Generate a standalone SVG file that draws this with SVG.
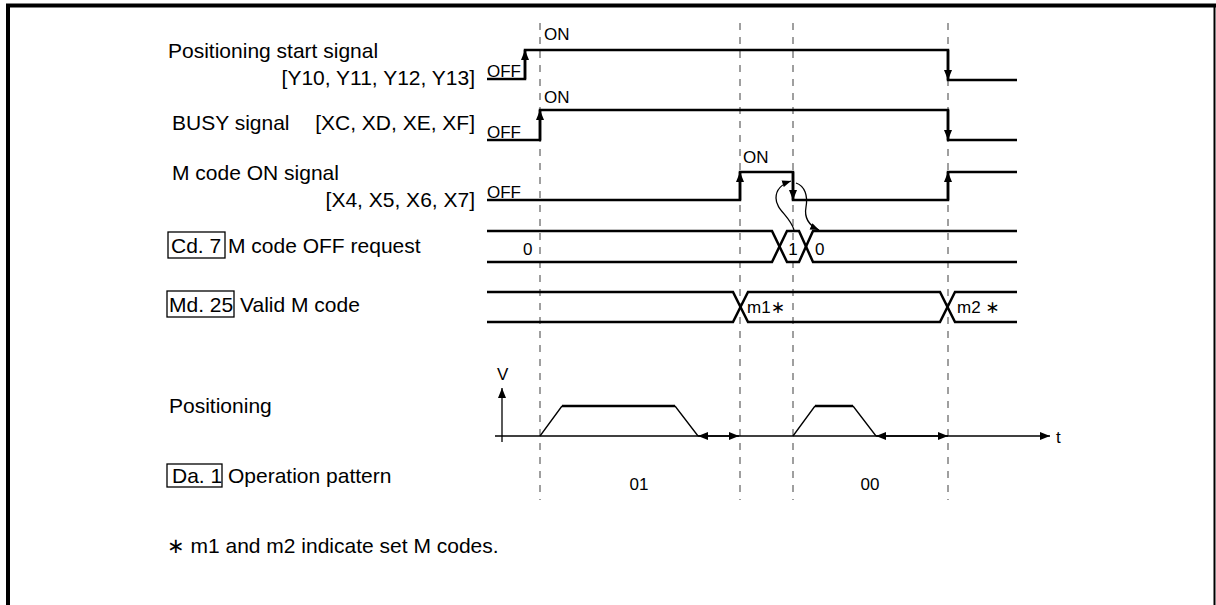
<svg xmlns="http://www.w3.org/2000/svg" width="1216" height="605" viewBox="0 0 1216 605">
<defs>
<marker id="ah" viewBox="0 0 10 8" refX="10" refY="4" markerWidth="10" markerHeight="8" markerUnits="userSpaceOnUse" orient="auto-start-reverse"><path d="M0,0 L10,4 L0,8 z" fill="#000"/></marker>
<marker id="ahs" viewBox="0 0 10 8" refX="10" refY="4" markerWidth="9" markerHeight="7" markerUnits="userSpaceOnUse" orient="auto"><path d="M0,0 L10,4 L0,8 z" fill="#000"/></marker>
</defs>
<style>
.lbl{font-family:"Liberation Sans",Arial,sans-serif;font-size:21px;fill:#000}
.sm{font-family:"Liberation Sans",Arial,sans-serif;font-size:17px;fill:#000}
.ast{font-family:"DejaVu Sans","Liberation Sans",sans-serif}
.sig{fill:none;stroke:#000;stroke-width:2.5}
.thin{fill:none;stroke:#000;stroke-width:1.3}
.dash{stroke:#808080;stroke-width:1.5;stroke-dasharray:7 7}
.box{fill:none;stroke:#000;stroke-width:1.3}
</style>
<rect width="1216" height="605" fill="#fff"/>
<g id="frame">
<path d="M8 605 V5.5 H1216" fill="none" stroke="#000" stroke-width="4"/>
<line x1="1214.5" y1="5" x2="1214.5" y2="605" stroke="#000" stroke-width="2"/>
</g>
<g id="connectors">
<line class="dash" x1="540" y1="23" x2="540" y2="500"/>
<line class="dash" x1="740" y1="23" x2="740" y2="500"/>
<line class="dash" x1="793" y1="23" x2="793" y2="500"/>
<line class="dash" x1="948" y1="23" x2="948" y2="500"/>
<path class="thin" d="M794 230 C790 216 776 210 776 198 C776 189 782 184 791 181" marker-end="url(#ahs)" stroke-width="1"/>
<path class="thin" d="M796 183 C805 186 808 196 806 207 C804 218 808 225 819 230" marker-end="url(#ahs)" stroke-width="1"/>
</g>
<g id="start-signal">
<text class="lbl" x="168" y="58">Positioning start signal</text>
<text class="lbl" x="475" y="85" text-anchor="end">[Y10, Y11, Y12, Y13]</text>
<text class="sm" x="487" y="77">OFF</text>
<text class="sm" x="544" y="40">ON</text>
<path class="sig" d="M487 79 H525 V50 H948 V80 H1017"/>
<line class="sig" x1="525" y1="79" x2="525" y2="50" marker-end="url(#ah)"/>
<line class="sig" x1="948" y1="50" x2="948" y2="80" marker-end="url(#ah)"/>
</g>
<g id="busy-signal">
<text class="lbl" x="172" y="130">BUSY signal</text>
<text class="lbl" x="475" y="130" text-anchor="end">[XC, XD, XE, XF]</text>
<text class="sm" x="487" y="138">OFF</text>
<text class="sm" x="544" y="103">ON</text>
<path class="sig" d="M487 140 H540 V110 H948 V140 H1017"/>
<line class="sig" x1="540" y1="140" x2="540" y2="110" marker-end="url(#ah)"/>
<line class="sig" x1="948" y1="110" x2="948" y2="140" marker-end="url(#ah)"/>
</g>
<g id="mcode-on-signal">
<text class="lbl" x="172" y="180">M code ON signal</text>
<text class="lbl" x="475" y="207" text-anchor="end">[X4, X5, X6, X7]</text>
<text class="sm" x="487" y="198">OFF</text>
<text class="sm" x="743" y="163">ON</text>
<path class="sig" d="M487 200 H740 V172 H793 V200 H948 V172 H1017"/>
<line class="sig" x1="740" y1="200" x2="740" y2="172" marker-end="url(#ah)"/>
<line class="sig" x1="793" y1="172" x2="793" y2="200" marker-end="url(#ah)"/>
<line class="sig" x1="948" y1="200" x2="948" y2="172" marker-end="url(#ah)"/>
</g>
<g id="cd7">
<rect class="box" x="168" y="232" width="57" height="26"/>
<text class="lbl" x="171" y="253">Cd. 7</text>
<text class="lbl" x="228" y="253">M code OFF request</text>
<path class="sig" d="M487 231 H772 L787 262 H799 L813 231 H1017"/>
<path class="sig" d="M487 262 H772 L787 231 H799 L813 262 H1017"/>
<text class="sm" x="523" y="255">0</text>
<text class="sm" x="793" y="255" text-anchor="middle">1</text>
<text class="sm" x="815" y="255">0</text>
</g>
<g id="md25">
<rect class="box" x="167" y="291" width="67" height="26"/>
<text class="lbl" x="169" y="312">Md. 25</text>
<text class="lbl" x="240" y="312">Valid M code</text>
<path class="sig" d="M487 292 H733 L748 322 H940 L955 292 H1017"/>
<path class="sig" d="M487 322 H733 L748 292 H940 L955 322 H1017"/>
<text class="sm" x="747" y="313">m1<tspan class="ast">∗</tspan></text>
<text class="sm" x="957" y="313">m2 <tspan class="ast">∗</tspan></text>
</g>
<g id="positioning">
<text class="lbl" x="169" y="413">Positioning</text>
<text class="sm" x="497" y="380">V</text>
<line class="thin" x1="502" y1="442" x2="502" y2="388" marker-end="url(#ah)"/>
<line class="thin" x1="495" y1="436" x2="1050" y2="436" marker-end="url(#ah)"/>
<text class="sm" x="1056" y="443">t</text>
<path class="thin" d="M540 436 L562 406 M675 406 L698 436 M793 436 L815 406 M853 406 L876 436"/>
<path class="sig" d="M562 406 H675 M815 406 H853"/>
<line class="thin" x1="698" y1="436" x2="739" y2="436" marker-start="url(#ah)" marker-end="url(#ah)"/>
<line class="thin" x1="876" y1="436" x2="948" y2="436" marker-start="url(#ah)" marker-end="url(#ah)"/>
</g>
<g id="da1">
<rect class="box" x="167" y="464" width="55" height="23"/>
<text class="lbl" x="172" y="483">Da. 1</text>
<text class="lbl" x="228" y="483">Operation pattern</text>
<text class="sm" x="639" y="490" text-anchor="middle">01</text>
<text class="sm" x="870" y="490" text-anchor="middle">00</text>
</g>
<g id="footnote">
<text class="lbl" x="167" y="553"><tspan class="ast">∗</tspan> m1 and m2 indicate set M codes.</text>
</g>
</svg>
